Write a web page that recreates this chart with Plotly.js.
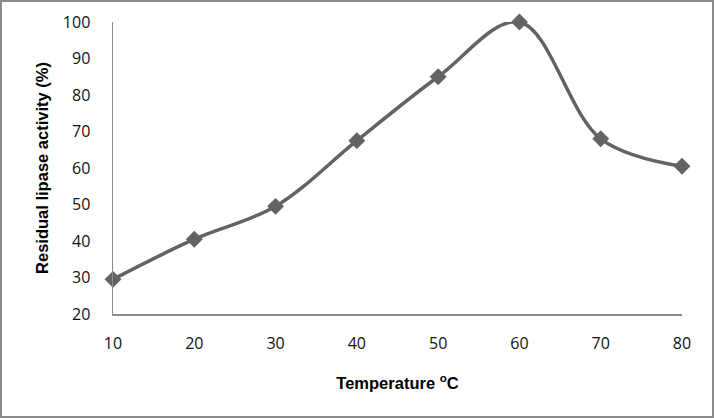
<!DOCTYPE html>
<html>
<head>
<meta charset="utf-8">
<script src="https://cdn.plot.ly/plotly-3.0.1.min.js"></script>
<style>
html,body{margin:0;padding:0;background:#fff;}
#wrap{position:relative;width:714px;height:418px;}
#chart{width:714px;height:418px;}
#frame{position:absolute;left:0;top:0;width:714px;height:418px;box-sizing:border-box;border:2px solid #8a8a8a;pointer-events:none;}
</style>
</head>
<body>
<div id="wrap"><div id="chart"></div><div id="frame"></div></div>
<script>
const temperature = [10, 20, 30, 40, 50, 60, 70, 80];
const activity = [29.5, 40.5, 49.5, 67.5, 85, 100, 68, 60.5];
const xTicks = [10, 20, 30, 40, 50, 60, 70, 80];
const yTicks = [20, 30, 40, 50, 60, 70, 80, 90, 100];

const trace = {
  x: temperature,
  y: activity,
  type: 'scatter',
  mode: 'lines+markers',
  line: {color: '#636363', width: 3.5, shape: 'spline', smoothing: 1},
  marker: {symbol: 'diamond', size: 13, color: '#636363'},
  cliponaxis: false,
  hoverinfo: 'x+y'
};

const tickFont = {family: 'Open Sans, Liberation Sans, sans-serif', size: 16, color: '#111'};
const titleFont = {family: 'Liberation Sans, Arial, sans-serif', size: 16.5, color: '#000'};

const layout = {
  width: 714, height: 418,
  margin: {l: 113, r: 32, t: 22, b: 104},
  paper_bgcolor: '#fff', plot_bgcolor: '#fff',
  showlegend: false,
  font: tickFont,
  xaxis: {
    range: [10, 80], tickvals: xTicks, ticktext: xTicks.map(String),
    showgrid: false, zeroline: false, showline: true, linecolor: '#8c8c8c', linewidth: 1.5,
    ticks: '', ticklen: 0, tickfont: tickFont, ticklabelstandoff: 14,
    title: {text: '<b>Temperature <sup>o</sup>C</b>', font: titleFont, standoff: 24}
  },
  yaxis: {
    range: [20, 100], tickvals: yTicks, ticktext: yTicks.map(String),
    showgrid: false, zeroline: false, showline: true, linecolor: '#8c8c8c', linewidth: 1.5,
    ticks: '', tickfont: tickFont, ticklabelstandoff: 18,
    title: {text: '<b>Residual lipase activity (%)</b>', font: titleFont, standoff: 10}
  }
};

Plotly.newPlot('chart', [trace], layout, {displayModeBar: false, staticPlot: true});
</script>
</body>
</html>
